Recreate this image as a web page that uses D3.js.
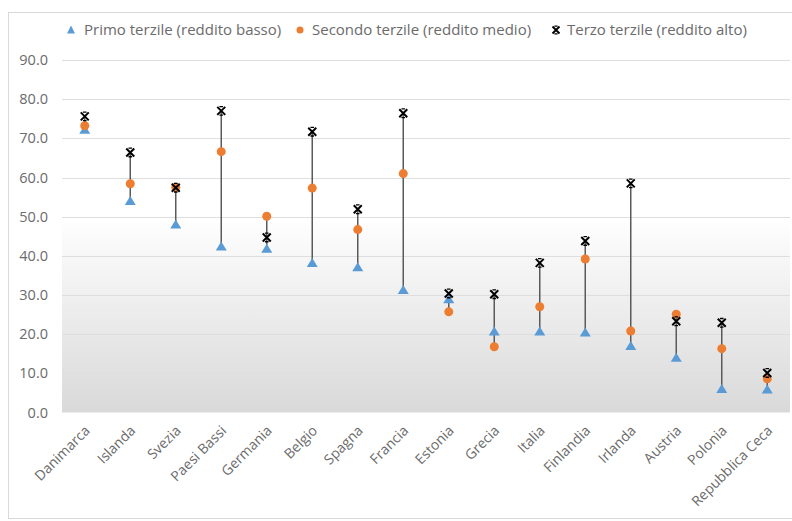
<!DOCTYPE html>
<html>
<head>
<meta charset="utf-8">
<script src="https://cdn.jsdelivr.net/npm/d3@7/dist/d3.min.js"></script>
<style>
  html, body { margin: 0; padding: 0; background: #fff; }
  svg { display: block; }
</style>
</head>
<body>
<svg id="chart" width="792" height="521"></svg>
<script>
// Quote per terzile di reddito, per paese
const paesi = ["Danimarca", "Islanda", "Svezia", "Paesi Bassi", "Germania", "Belgio", "Spagna", "Francia",
  "Estonia", "Grecia", "Italia", "Finlandia", "Irlanda", "Austria", "Polonia", "Repubblica Ceca"];
const primoTerzile = [72.2, 54.0, 48.0, 42.4, 41.8, 38.2, 37.1, 31.3, 28.9, 20.7, 20.7, 20.4, 17.0, 14.0, 6.0, 5.9];
const secondoTerzile = [73.2, 58.4, 57.5, 66.6, 50.1, 57.3, 46.7, 61.0, 25.7, 16.8, 27.0, 39.2, 20.8, 25.1, 16.3, 8.6];
const terzoTerzile = [75.6, 66.4, 57.4, 77.0, 44.7, 71.7, 51.9, 76.4, 30.4, 30.2, 38.2, 43.8, 58.5, 23.3, 22.9, 10.1];
const yTicks = [0, 10, 20, 30, 40, 50, 60, 70, 80, 90];
const legendLabels = ["Primo terzile (reddito basso)", "Secondo terzile (reddito medio)", "Terzo terzile (reddito alto)"];

const svg = d3.select("#chart");
const W = 792;
const plot = { left: 62, right: 790, top: 60, bottom: 412.5 };
const textColor = "#6b6b6b";
const fontAxis = "'Open Sans', 'Noto Sans', sans-serif";

// chart frame
svg.append("rect").attr("x", 8.5).attr("y", 12.5).attr("width", W).attr("height", 506)
  .attr("fill", "#fff").attr("stroke", "#d9d9d9").attr("stroke-width", 1);

// plot area gradient
const defs = svg.append("defs");
const grad = defs.append("linearGradient").attr("id", "bg").attr("x1", 0).attr("y1", 0).attr("x2", 0).attr("y2", 1);
grad.append("stop").attr("offset", "0%").attr("stop-color", "#ffffff");
grad.append("stop").attr("offset", "44%").attr("stop-color", "#ffffff");
grad.append("stop").attr("offset", "100%").attr("stop-color", "#d9d9d9");

const x = d3.scaleBand().domain(paesi).range([plot.left, plot.right]);
const y = d3.scaleLinear().domain([0, 90]).range([plot.bottom, plot.top]);

svg.append("rect").attr("x", plot.left).attr("y", plot.top)
  .attr("width", plot.right - plot.left).attr("height", plot.bottom - plot.top)
  .attr("fill", "url(#bg)");

// gridlines
svg.append("g").selectAll("line").data(yTicks.filter(d => d > 0)).join("line")
  .attr("x1", plot.left).attr("x2", plot.right)
  .attr("y1", d => Math.round(y(d)) + 0.5).attr("y2", d => Math.round(y(d)) + 0.5)
  .attr("stroke", "#dedede").attr("stroke-width", 1);

// y axis labels
const yAxis = d3.axisLeft(y).tickValues(yTicks).tickFormat(d3.format(".1f")).tickSize(0).tickPadding(14);
const gy = svg.append("g").attr("transform", `translate(${plot.left},0)`).call(yAxis);
gy.select(".domain").remove();
gy.selectAll("text").attr("fill", textColor).style("font-family", fontAxis).style("font-size", "14.5px");

// x axis labels, rotated
const xAxis = d3.axisBottom(x).tickSize(0).tickPadding(0);
const gx = svg.append("g").attr("transform", `translate(0,${plot.bottom})`).call(xAxis);
gx.select(".domain").remove();
gx.selectAll("text")
  .attr("fill", textColor).style("font-family", fontAxis).style("font-size", "14px")
  .attr("text-anchor", "end")
  .attr("dy", 0).attr("y", 0)
  .attr("transform", "translate(6,19) rotate(-45)");

// high-low connectors
const rows = paesi.map((p, i) => ({ p, a: primoTerzile[i], b: secondoTerzile[i], c: terzoTerzile[i] }));
const cx = p => x(p) + x.bandwidth() / 2;
svg.append("g").selectAll("line").data(rows).join("line")
  .attr("x1", d => cx(d.p)).attr("x2", d => cx(d.p))
  .attr("y1", d => y(Math.max(d.a, d.b, d.c))).attr("y2", d => y(Math.min(d.a, d.b, d.c)))
  .attr("stroke", "#5a5a5a").attr("stroke-width", 1.5);

const tri = "M0,-5 L5.5,4 L-5.5,4 Z";
const cross = "M-4,-4 L4,4 M-4,4 L4,-4";
const caps = "M-1.8,-4.3 L1.8,-4.3 M-1.8,4.3 L1.8,4.3";

svg.append("g").selectAll("path").data(rows).join("path")
  .attr("d", tri).attr("fill", "#5b9bd5")
  .attr("transform", d => `translate(${cx(d.p)},${y(d.a)})`);
svg.append("g").selectAll("circle").data(rows).join("circle")
  .attr("cx", d => cx(d.p)).attr("cy", d => y(d.b)).attr("r", 4.5).attr("fill", "#ed7d31");
const xs = svg.append("g").selectAll("g").data(rows).join("g")
  .attr("transform", d => `translate(${cx(d.p)},${y(d.c)})`);
xs.append("path").attr("d", cross).attr("fill", "none").attr("stroke", "#000").attr("stroke-width", 2);
xs.append("path").attr("d", caps).attr("fill", "none").attr("stroke", "#000").attr("stroke-width", 1.3);

// legend
const legendY = 30;
const legendFont = "'Liberation Sans Narrow', 'Open Sans', sans-serif";
const items = [
  { mx: 71, tx: 84, kind: "tri" },
  { mx: 300, tx: 312, kind: "dot" },
  { mx: 556, tx: 567, kind: "x" }
];
const lg = svg.append("g");
items.forEach((it, i) => {
  if (it.kind === "tri") lg.append("path").attr("d", "M0,-4.5 L4,3.5 L-4,3.5 Z").attr("fill", "#5b9bd5")
    .attr("transform", `translate(${it.mx},${legendY})`);
  if (it.kind === "dot") lg.append("circle").attr("cx", it.mx).attr("cy", legendY).attr("r", 3.5).attr("fill", "#ed7d31");
  if (it.kind === "x") {
    const m = lg.append("g").attr("transform", `translate(${it.mx},${legendY})`);
    m.append("path").attr("d", "M-3.5,-3.5 L3.5,3.5 M-3.5,3.5 L3.5,-3.5")
      .attr("stroke", "#000").attr("stroke-width", 1.9).attr("fill", "none");
    m.append("path").attr("d", "M-1.6,-3.8 L1.6,-3.8 M-1.6,3.8 L1.6,3.8")
      .attr("stroke", "#000").attr("stroke-width", 1.2).attr("fill", "none");
  }
  lg.append("text").attr("x", it.tx).attr("y", legendY).attr("dy", "0.35em")
    .attr("fill", textColor).style("font-family", legendFont).style("font-size", "15px")
    .text(legendLabels[i]);
});
</script>
</body>
</html>
